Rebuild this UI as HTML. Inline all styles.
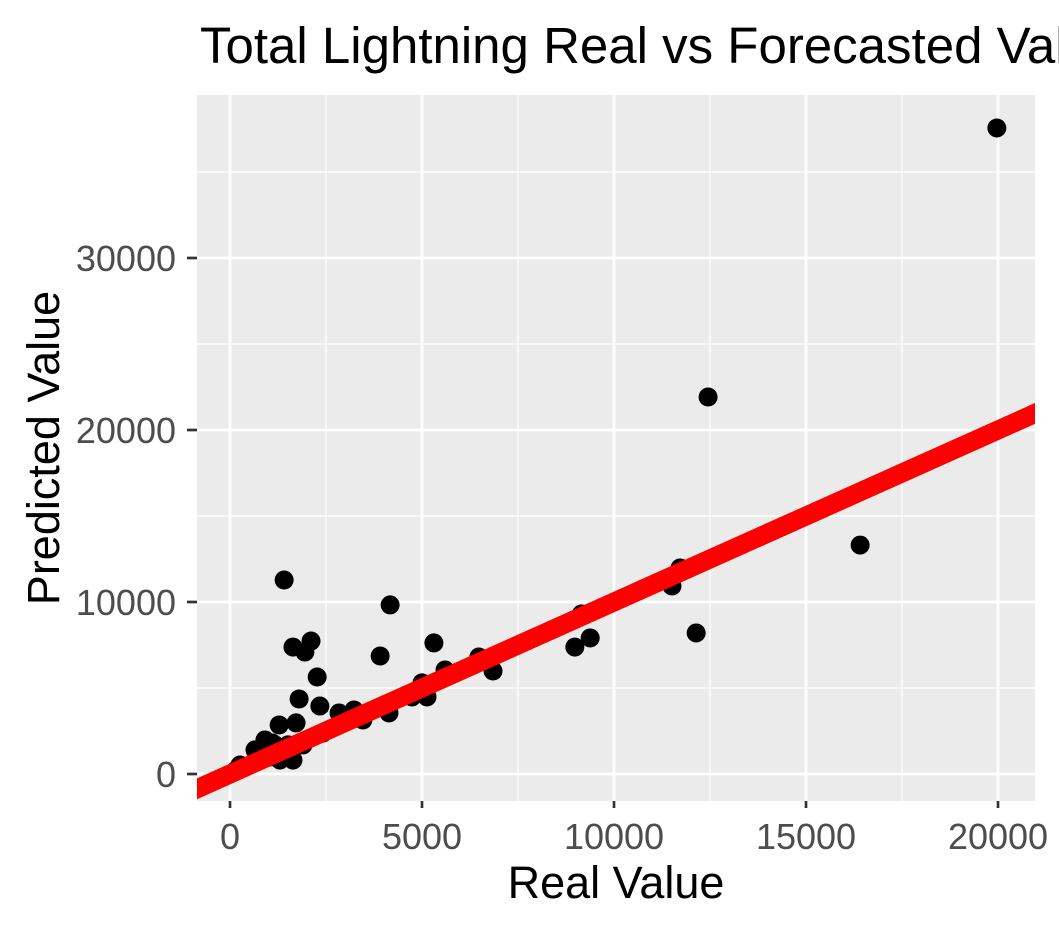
<!DOCTYPE html>
<html><head><meta charset="utf-8"><style>
body{margin:0;background:#fff;}
svg{display:block;font-family:"Liberation Sans",Arial,sans-serif;}
</style></head><body>
<svg id="chart" width="1059" height="932">
<rect x="197" y="95" width="838" height="706" fill="#ebebeb"/>
<g id="grid"></g><g id="marks"></g><g id="axes"></g>
<text x="200" y="63" font-size="51" fill="#000">Total Lightning Real vs Forecasted Values</text>
<text x="616" y="898" font-size="45" text-anchor="middle" fill="#000">Real Value</text>
<text transform="translate(59,448) rotate(-90)" font-size="45" text-anchor="middle" fill="#000">Predicted Value</text>
</svg>
<script>
const xVals=[19970,12450,16410,1410,4170,12140,11510,11720,9380,8980,9150,5310,3910,1640,1950,2110,2270,1800,2340,6850,6480,5600,4740,5130,5000,4140,3460,3230,2840,2420,1900,1720,1280,1510,1640,1300,1040,910,650,260,160,1170,800,1100];
const yVals=[37560,21920,13310,11280,9830,8200,10930,11980,7910,7380,9300,7620,6860,7380,7090,7730,5640,4360,3950,5990,6800,6050,4480,4480,5300,3550,3140,3720,3550,2380,1690,2970,2850,1690,810,810,990,1980,1400,520,230,1690,1200,1800];
const xTicks=[0,5000,10000,15000,20000];
const yTicks=[0,10000,20000,30000];
const xMinor=[2500,7500,12500,17500];
const yMinor=[5000,15000,25000,35000];
const fitX=[-1000,22000];
const fitY=[-1000,22000];
const X=v=>230+v*0.0384, Y=v=>774-v*0.0172;
const NS='http://www.w3.org/2000/svg';
function mk(tag,attrs,parent){const e=document.createElementNS(NS,tag);for(const k in attrs)e.setAttribute(k,attrs[k]);document.getElementById(parent).appendChild(e);return e;}
xMinor.forEach(v=>{const e=mk('line',{x1:X(v),x2:X(v),y1:95,y2:801,stroke:'#fff','stroke-width':1.3},'grid');

});
yMinor.forEach(v=>{const e=mk('line',{x1:197,x2:1035,y1:Y(v),y2:Y(v),stroke:'#fff','stroke-width':1.3},'grid');

});
xTicks.forEach(v=>{const e=mk('line',{x1:X(v),x2:X(v),y1:95,y2:801,stroke:'#fff','stroke-width':2.7},'grid');


const t=mk('line',{x1:X(v),x2:X(v),y1:801,y2:808,stroke:'#333','stroke-width':2.7},'axes');


const l=mk('text',{x:X(v),y:849,'font-size':36,'text-anchor':'middle',fill:'#4d4d4d'},'axes');l.textContent=v;

});
yTicks.forEach(v=>{const e=mk('line',{x1:197,x2:1035,y1:Y(v),y2:Y(v),stroke:'#fff','stroke-width':2.7},'grid');


const t=mk('line',{x1:187,x2:197,y1:Y(v),y2:Y(v),stroke:'#333','stroke-width':2.7},'axes');


const l=mk('text',{x:176,y:Y(v)+13,'font-size':36,'text-anchor':'end',fill:'#4d4d4d'},'axes');l.textContent=v;

});
mk('clipPath',{id:'pc'},'marks');
mk('rect',{x:197,y:95,width:838,height:706},'marks');
document.getElementById('pc').appendChild(document.querySelector('#marks rect'));
xVals.forEach((v,i)=>{const c=mk('circle',{cx:X(v),cy:Y(yVals[i]),r:9.5,fill:'#000'},'marks');

});
const fl=mk('line',{x1:X(fitX[0]),y1:Y(fitY[0]),x2:X(fitX[1]),y2:Y(fitY[1]),stroke:'#ff0000','stroke-width':19,'clip-path':'url(#pc)'},'marks');


</script>
</body></html>
